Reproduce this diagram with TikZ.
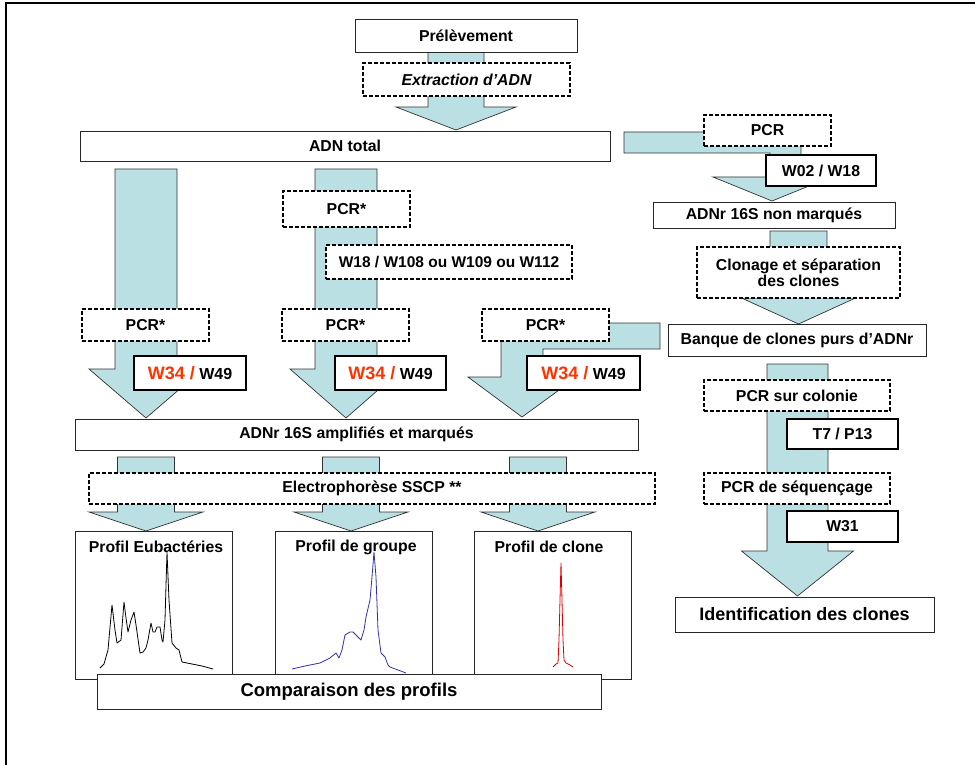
\documentclass[tikz,border=0pt]{standalone}
\usepackage{fontspec}
\setmainfont{Liberation Sans}
\usetikzlibrary{calc}
\definecolor{tealfill}{RGB}{187,224,227}
\definecolor{wred}{RGB}{255,51,0}
\definecolor{pblue}{RGB}{50,50,170}
\definecolor{pred}{RGB}{220,0,0}
\newcommand{\lab}{\fontsize{15.8}{17}\selectfont\bfseries}
\newcommand{\blockdn}[5]{%
  \path[blockarrow] let \p1=(#1), \p2=(#2) in
   (\x1-#4pt,\y1) -- (\x1+#4pt,\y1) -- (\x1+#4pt,\y2+#3pt) -- (\x1+#5pt,\y2+#3pt)
   -- (\x2,\y2) -- (\x1-#5pt,\y2+#3pt) -- (\x1-#4pt,\y2+#3pt) -- cycle;}
\newcommand{\wlab}{{\fontsize{18}{19}\selectfont\bfseries\color{wred}W34 /} {\fontsize{16}{19}\selectfont\bfseries W49}}
\begin{document}
\begin{tikzpicture}[x=1pt,y=-1pt,
  blockarrow/.style={draw=black!80, line width=0.7pt, fill=tealfill},
  box/.style={draw=black!85, line width=0.7pt, fill=white, inner sep=0pt, font=\lab, align=center},
  dbox/.style={box, draw=black, dash pattern=on 4pt off 2pt, line width=1.3pt},
  wbox/.style={box, draw=black, line width=1.1pt},
  curve/.style={line width=0.8pt, line join=round}]
\useasboundingbox (0,0) rectangle (975,765);
\clip (0,0) rectangle (975,765);
% frame
\draw[line width=2.5pt] (6,800) -- (6,3) -- (1000,3);

% ---- arrow coordinates
\coordinate (a0s) at (456,52);   \coordinate (a0t) at (456,130);
\coordinate (c1s) at (146,169);  \coordinate (c1t) at (146,418);
\coordinate (c2s) at (346,169);  \coordinate (c2t) at (346,418);
\coordinate (r2s) at (798.5,231); \coordinate (r2t) at (798.5,324);
\coordinate (r3s) at (797.5,364); \coordinate (r3t) at (797.5,596);
\coordinate (b1s) at (146,457);  \coordinate (b1t) at (146,531);
\coordinate (b2s) at (351,457);  \coordinate (b2t) at (351,531);
\coordinate (b3s) at (538,457);  \coordinate (b3t) at (538,531);

% ---- block arrows
\blockdn{a0s}{a0t}{23}{28}{60}
\blockdn{c1s}{c1t}{49}{31}{57}
\blockdn{c2s}{c2t}{49}{31}{56}
\blockdn{r2s}{r2t}{26}{28.5}{57}
\blockdn{r3s}{r3t}{45}{30.5}{56}
\blockdn{b1s}{b1t}{19}{28.5}{57}
\blockdn{b2s}{b2t}{19}{28.5}{57}
\blockdn{b3s}{b3t}{19}{28.5}{57}
% bent arrow from the right (Banque) to column 3
\path[blockarrow] (660,323) -- (501,323) -- (501,377) -- (468,377) -- (522,417)
  -- (577,377) -- (543,377) -- (543,349) -- (660,349) -- cycle;
% bent arrow from ADN total to ADNr 16S non marques
\path[blockarrow] (624,132) -- (801,132) -- (801,177) -- (831,177) -- (772,201)
  -- (713,177) -- (770,177) -- (770,153) -- (624,153) -- cycle;

% ---- boxes
\node[box, minimum width=222, minimum height=33] (prel) at (466,35.5) {Prélèvement};
\node[dbox, minimum width=207, minimum height=33] (extr) at (466.5,79.5) {\itshape Extraction d’ADN};
\node[box, minimum width=530, minimum height=30] (adn) at (345,146) {ADN total};
\node[dbox, minimum width=127, minimum height=36] (pcrA) at (346.5,209) {PCR*};
\node[dbox, minimum width=246, minimum height=34, font=\fontsize{15.5}{17}\selectfont\bfseries] (w18) at (449,262) {W18 / W108 ou W109 ou W112};
\node[dbox, minimum width=127, minimum height=32] (pcr1) at (145.5,325) {PCR*};
\node[dbox, minimum width=127, minimum height=32] (pcr2) at (345.5,325) {PCR*};
\node[dbox, minimum width=127, minimum height=32] (pcr3) at (545.5,325) {PCR*};
\node[wbox, minimum width=112, minimum height=34] (w34a) at (190,373) {\wlab};
\node[wbox, minimum width=111, minimum height=34] (w34b) at (390.5,373) {\wlab};
\node[wbox, minimum width=113, minimum height=34] (w34c) at (583.5,373) {\wlab};
\node[box, minimum width=563, minimum height=31] (ampl) at (356.5,434.5) {ADNr 16S amplifiés et marqués};
\node[dbox, minimum width=566, minimum height=31] (elec) at (372,488.5) {Electrophorèse SSCP **};
\node[box, minimum width=157, minimum height=148] (prof1) at (153.5,605) {};
\node[box, minimum width=157, minimum height=148] (prof2) at (353.5,605) {};
\node[box, minimum width=157, minimum height=148] (prof3) at (552.5,605) {};
\node[font=\lab, inner sep=0pt] (t1) at (156,547) {Profil Eubactéries};
\node[font=\lab, inner sep=0pt] (t2) at (356,547) {Profil de groupe};
\node[font=\lab, inner sep=0pt] (t3) at (549,547) {Profil de clone};

% right column
\node[dbox, minimum width=127, minimum height=31] (pcrR) at (767.5,130.5) {PCR};
\node[wbox, minimum width=110, minimum height=31] (w02) at (821,170.5) {W02 / W18};
\node[box, minimum width=242, minimum height=26] (nonm) at (774,215) {ADNr 16S non marqués};
\node[dbox, minimum width=203, minimum height=51] (clon) at (798.5,272.5) {Clonage et séparation\\[-1pt]des clones};
\node[box, minimum width=258, minimum height=32] (banq) at (797,340) {Banque de clones purs d’ADNr};
\node[dbox, minimum width=186, minimum height=31] (pcol) at (797,395.5) {PCR sur colonie};
\node[wbox, minimum width=111, minimum height=30] (t7) at (842.5,434) {T7 / P13};
\node[dbox, minimum width=186, minimum height=31] (pseq) at (797,488.5) {PCR de séquençage};
\node[wbox, minimum width=111, minimum height=31] (w31) at (842.5,526.5) {W31};
\node[box, minimum width=259, minimum height=35, font=\fontsize{18}{20}\selectfont\bfseries] (ident) at (804.5,614.5) {Identification des clones};

% ---- profiles
\draw[curve, black] (100,668) -- (104,664) -- (108,650) -- (112,605) -- (115,630) -- (117,643)
 -- (121,640) -- (124,602) -- (126,618) -- (128,632) -- (131,620) -- (134,612) -- (136,625)
 -- (140,653) -- (143,652) -- (146,648) -- (148,640) -- (151,623) -- (153,632) -- (155,632)
 -- (157,627) -- (160,627) -- (162,640) -- (163,642) -- (165,620) -- (167,552) -- (169,600)
 -- (172,643) -- (176,648) -- (179,650) -- (182,662) -- (192,664) -- (202,666) -- (213,669);
\draw[curve, pblue] (292,669) -- (305,666) -- (320,663) -- (330,658) -- (336,653)
 -- (339,658) -- (342,650) -- (345,635) -- (350,632) -- (353,632) -- (357,636) -- (361,640)
 -- (364,630) -- (366,617) -- (370,600) -- (372,577) -- (374,552) -- (376,577) -- (378,630)
 -- (381,653) -- (385,657) -- (388,665) -- (390,667) -- (398,670) -- (406,673);
\draw[curve, pred] (553,667) -- (556,664) -- (558,663) -- (559,640) -- (560,600)
 -- (561,563) -- (562,600) -- (563,640) -- (564,660) -- (566,663) -- (570,665) -- (573,667);

\node[box, minimum width=504, minimum height=35, font=\fontsize{18.5}{20}\selectfont\bfseries] (comp) at (349,691.5) {Comparaison des profils};
\end{tikzpicture}
\end{document}
